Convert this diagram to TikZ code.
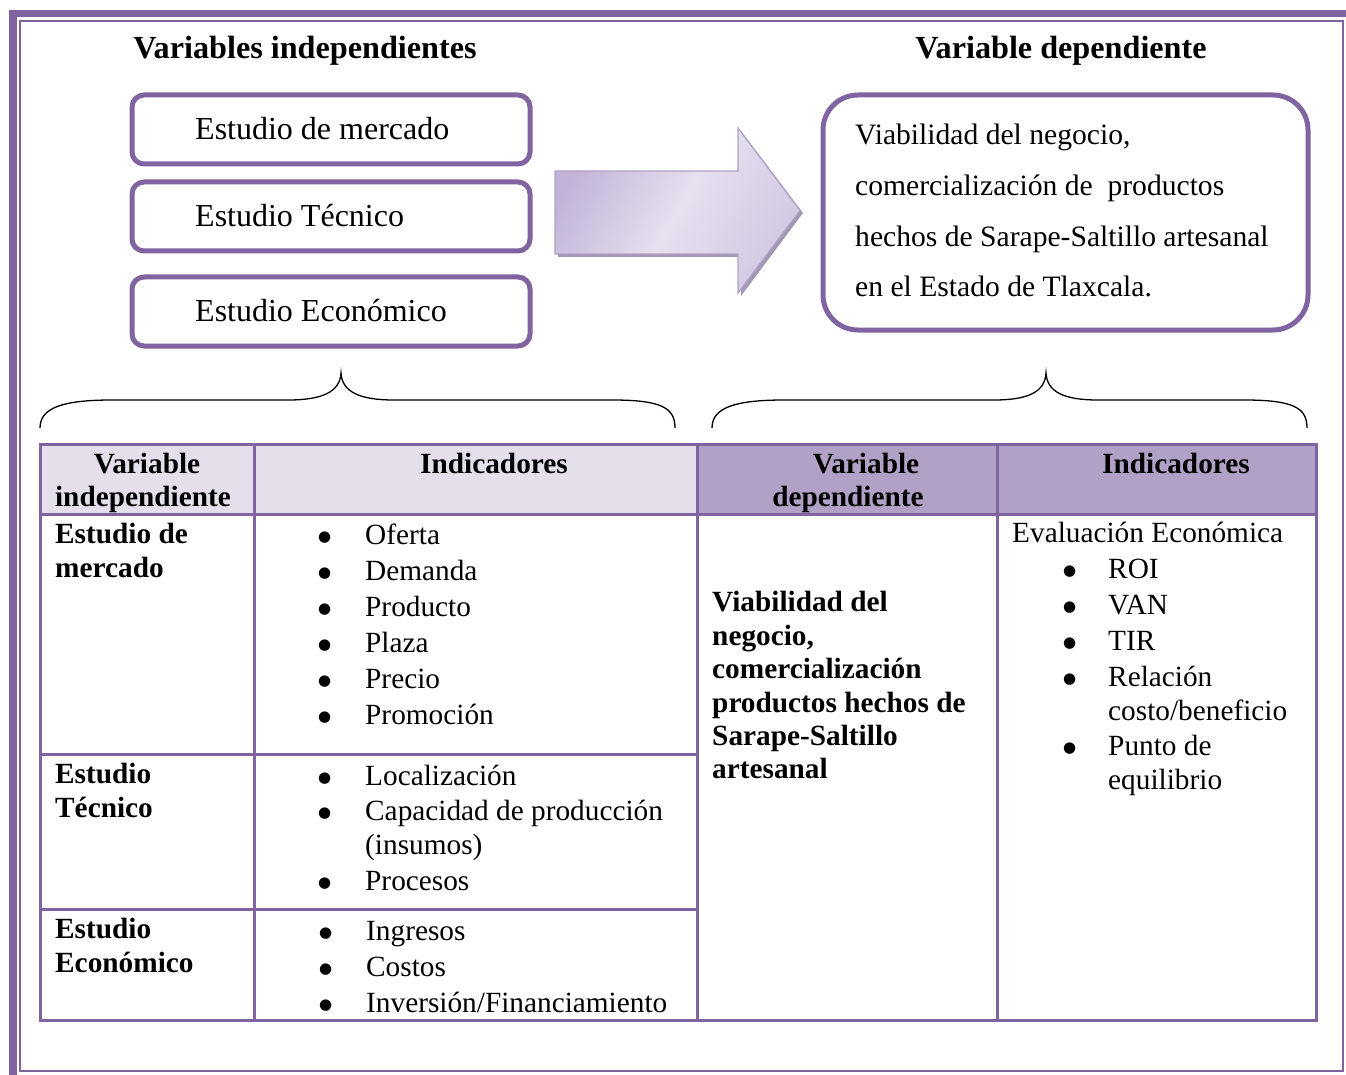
\documentclass[tikz,border=0pt]{standalone}
\usepackage{fontspec}
\setmainfont{Liberation Serif}
\newfontfamily\symfont{DejaVu Sans}
\definecolor{pur}{HTML}{8064A2}
\definecolor{lil}{HTML}{E5DFEC}
\definecolor{lil2}{HTML}{B2A1C7}
\definecolor{arrshadow}{HTML}{A398B3}
\definecolor{arrA}{HTML}{C2B4D8}
\definecolor{arrB}{HTML}{E6E0EF}
\definecolor{arrC}{HTML}{D3C8E3}
\newcommand{\bul}[1]{\makebox[#1][l]{\hspace*{1pt}\raisebox{3pt}{\symfont\fontsize{15}{15}\selectfont ●}}}
\begin{document}
\begin{tikzpicture}[x=1pt,y=-1pt,
  heading/.style={anchor=base, inner sep=0pt, font=\fontsize{32.2}{36}\selectfont\bfseries},
  vbox/.style={draw=pur, line width=5pt, rounded corners=12pt, minimum width=398pt, minimum height=69pt, inner sep=0pt},
  boxtxt/.style={anchor=base west, inner sep=0pt, font=\fontsize{32}{36}\selectfont},
  dtxt/.style={anchor=base west, inner sep=0pt, font=\fontsize{29.6}{34}\selectfont},
  ttxt/.style={anchor=base west, inner sep=0pt, font=\fontsize{29.3}{34}\selectfont},
  btxt/.style={anchor=base west, inner sep=0pt, font=\fontsize{29.3}{34}\selectfont\bfseries},
  htxt/.style={anchor=base, inner sep=0pt, font=\fontsize{29.3}{34}\selectfont\bfseries},
  tab/.style={draw=pur, line width=3pt},
  brace/.style={draw=black, line width=1.3pt}
]
\useasboundingbox (0,0) rectangle (1346,1075);

% page border
\fill[pur] (9,10) rectangle (1346,17);
\fill[pur] (9,10) rectangle (17,1075);
\draw[pur, line width=2pt] (20,21) rectangle (1343,1071);

% headings
\node[heading] (hind) at (305,59) {Variables independientes};
\node[heading] (hdep) at (1061,59) {Variable dependiente};

% independent boxes
\node[vbox] (b1) at (331,129.5) {};
\node[vbox] (b2) at (331,216.5) {};
\node[vbox] (b3) at (331,311.5) {};
\node[boxtxt] (b1t) at (195,140) {Estudio de mercado};
\node[boxtxt] (b2t) at (195,227) {Estudio Técnico};
\node[boxtxt] (b3t) at (195,321) {Estudio Económico};

% block arrow
\fill[arrshadow] (558,174) -- (741,174) -- (741,131) -- (803,213) -- (741,296) -- (741,257) -- (558,257) -- cycle;
\path[draw=lil2, line width=1.2pt, left color=arrA, right color=arrC, middle color=arrB, shading angle=60]
  (555,171) -- (738,171) -- (738,128) -- (800,210.5) -- (738,293) -- (738,254) -- (555,254) -- cycle;

% dependent box
\node[draw=pur, line width=5pt, rounded corners=35pt, minimum width=485pt, minimum height=235pt, inner sep=0pt] (dbox) at (1065.5,212.5) {};
\node[dtxt] (d1) at (855,145) {Viabilidad del negocio,};
\node[dtxt] (d2) at (855,196) {comercialización de\ \ productos};
\node[dtxt] (d3) at (855,247) {hechos de Sarape-Saltillo artesanal};
\node[dtxt] (d4) at (855,297) {en el Estado de Tlaxcala.};

% braces
\draw[brace] (40,428) .. controls (40,408) and (62,400) .. (112,400) -- (288,400)
  .. controls (322,400) and (340,392) .. (341,373)
  .. controls (342,392) and (360,400) .. (394,400) -- (612,400)
  .. controls (662,400) and (675,408) .. (675,428);
\draw[brace] (712,428) .. controls (712,408) and (734,400) .. (784,400) -- (994,400)
  .. controls (1028,400) and (1045,392) .. (1046,373)
  .. controls (1047,392) and (1064,400) .. (1098,400) -- (1244,400)
  .. controls (1294,400) and (1307,408) .. (1307,428);

% table
\fill[lil] (40,444) rectangle (697,514);
\fill[lil2] (697,444) rectangle (1316,514);
\draw[tab] (40,514) -- (1316,514);
\draw[tab] (254,444) -- (254,1020);
\draw[tab] (697,444) -- (697,1020);
\draw[tab] (997,444) -- (997,1020);
\draw[tab] (40,754) -- (697,754);
\draw[tab] (40,909) -- (697,909);
\draw[tab] (40,444) rectangle (1316,1020);

% header
\node[htxt] (h1a) at (147,473) {Variable};
\node[htxt] (h1b) at (143,506) {independiente};
\node[htxt] (h2) at (494,473) {Indicadores};
\node[htxt] (h3a) at (866,473) {Variable};
\node[htxt] (h3b) at (848,506) {dependiente};
\node[htxt] (h4) at (1176,473) {Indicadores};

% left column
\node[btxt] (r1a) at (55,543) {Estudio de};
\node[btxt] (r1b) at (55,577) {mercado};
\node[btxt] (r2a) at (55,783) {Estudio};
\node[btxt] (r2b) at (55,817) {Técnico};
\node[btxt] (r3a) at (55,938) {Estudio};
\node[btxt] (r3b) at (55,972) {Económico};

% indicators (independent)
\foreach \n/\y/\t in {1/544/Oferta, 2/580/Demanda, 3/616/Producto, 4/652/Plaza, 5/688/Precio, 6/724/Promoción}
  \node[ttxt] (m\n) at (317,\y) {\bul{48pt}\t};
\node[ttxt] (t1) at (317,785) {\bul{48pt}Localización};
\node[ttxt] (t2) at (317,820) {\bul{48pt}Capacidad de producción};
\node[ttxt] (t3) at (317,854) {\hspace*{48pt}(insumos)};
\node[ttxt] (t4) at (317,890) {\bul{48pt}Procesos};
\foreach \n/\y/\t in {1/940/Ingresos, 2/976/Costos, 3/1012/{Inversión/Financiamiento}}
  \node[ttxt] (e\n) at (318,\y) {\bul{48pt}\t};

% dependent variable
\foreach \n/\y/\t in {1/611/Viabilidad del, 2/645/{negocio,}, 3/678/comercialización, 4/712/productos hechos de, 5/745/Sarape-Saltillo, 6/778/artesanal}
  \node[btxt] (v\n) at (712,\y) {\t};

% dependent indicators
\node[ttxt] (ev) at (1012,542) {Evaluación Económica};
\foreach \n/\y/\t in {1/578/ROI, 2/614/VAN, 3/650/TIR, 4/686/Relación}
  \node[ttxt] (i\n) at (1062,\y) {\bul{46pt}\t};
\node[ttxt] (i5) at (1062,720) {\hspace*{46pt}costo/beneficio};
\node[ttxt] (i6) at (1062,755) {\bul{46pt}Punto de};
\node[ttxt] (i7) at (1062,789) {\hspace*{46pt}equilibrio};
\end{tikzpicture}
\end{document}
